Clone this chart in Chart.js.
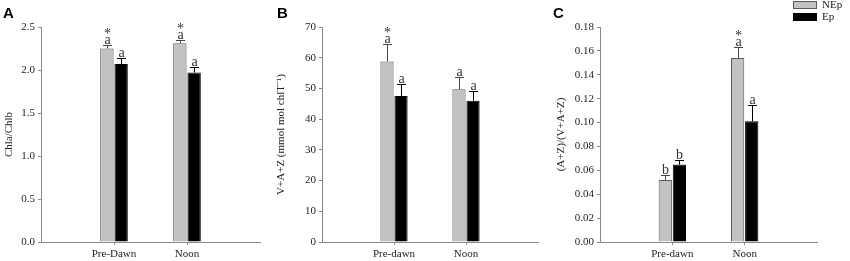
<!DOCTYPE html>
<html><head><meta charset="utf-8">
<script src="https://cdn.jsdelivr.net/npm/chart.js@4/dist/chart.umd.min.js"></script>
<style>
html,body{margin:0;padding:0;background:#fff;width:850px;height:261px;overflow:hidden}
.p{position:absolute;top:0;height:261px}
canvas{display:block}
</style></head><body>
<div class="p" style="left:0;width:275px"><canvas id="cA" width="275" height="261"></canvas></div>
<div class="p" style="left:270px;width:280px"><canvas id="cB" width="280" height="261"></canvas></div>
<div class="p" style="left:550px;width:300px"><canvas id="cC" width="300" height="261"></canvas></div>
<script>
// ---- data ----
const seriesNames = ['NEp', 'Ep'];
const categoriesA = ['Pre-Dawn', 'Noon'];
const categoriesBC = ['Pre-dawn', 'Noon'];

const chlNEp = [2.25, 2.31];
const chlNEpErr = [0.045, 0.04];
const chlEp = [2.07, 1.97];
const chlEpErr = [0.07, 0.06];
const chlNEpLetters = ['a', 'a'];
const chlNEpStars = ['*', '*'];
const chlEpLetters = ['a', 'a'];
const chlEpStars = ['', ''];

const vazNEp = [58.8, 49.7];
const vazNEpErr = [5.6, 4.0];
const vazEp = [47.5, 46.0];
const vazEpErr = [3.8, 3.3];
const vazNEpLetters = ['a', 'a'];
const vazNEpStars = ['*', ''];
const vazEpLetters = ['a', 'a'];
const vazEpStars = ['', ''];

const ratNEp = [0.052, 0.154];
const ratNEpErr = [0.0037, 0.0096];
const ratEp = [0.0648, 0.101];
const ratEpErr = [0.0035, 0.0137];
const ratNEpLetters = ['b', 'a'];
const ratNEpStars = ['', '*'];
const ratEpLetters = ['b', 'a'];
const ratEpStars = ['', ''];

const yTicksA = ['0.0', '0.5', '1.0', '1.5', '2.0', '2.5'];
const yTicksB = ['0', '10', '20', '30', '40', '50', '60', '70'];
const yTicksC = ['0.00', '0.02', '0.04', '0.06', '0.08', '0.10', '0.12', '0.14', '0.16', '0.18'];

// ---- styles ----
Chart.defaults.font.family = "'Liberation Serif', 'Times New Roman', serif";
Chart.defaults.color = '#222';
const GREY = '#c2c2c2', GREY_EDGE = '#5a5a5a', AXIS = '#8a8a8a';

const annot = {
  id: 'annot',
  afterDatasetsDraw(chart) {
    const ctx = chart.ctx, ys = chart.scales.y;
    chart.data.datasets.forEach((ds, di) => {
      const meta = chart.getDatasetMeta(di);
      meta.data.forEach((el, i) => {
        const v = ds.data[i].y;
        const top = Math.round(ys.getPixelForValue(v + ds.errors[i])) + 0.5;
        const x = Math.round(el.x) + 0.5;
        ctx.save();
        ctx.strokeStyle = ds.errColor;
        ctx.lineWidth = 1;
        ctx.beginPath();
        ctx.moveTo(x, el.y);
        ctx.lineTo(x, top);
        ctx.moveTo(x - 4.5, top);
        ctx.lineTo(x + 4.5, top);
        ctx.stroke();
        ctx.fillStyle = '#333';
        ctx.textAlign = 'center';
        ctx.textBaseline = 'alphabetic';
        ctx.font = "14px 'Liberation Serif', serif";
        ctx.fillText(ds.letters[i], x, top - 2);
        if (ds.stars[i]) ctx.fillText(ds.stars[i], x, top - 8);
        ctx.restore();
      });
    });
  }
};

function panelLetter(letter, lx) {
  return {
    id: 'panelLetter',
    afterDraw(chart) {
      const ctx = chart.ctx;
      ctx.save();
      ctx.fillStyle = '#000';
      ctx.font = "bold 15px 'Liberation Sans', Arial, sans-serif";
      ctx.textBaseline = 'alphabetic';
      ctx.textAlign = 'left';
      ctx.fillText(letter, lx, 18);
      ctx.restore();
    }
  };
}

const legendPlugin = {
  id: 'customLegend',
  afterDraw(chart) {
    const ctx = chart.ctx;
    const ds = chart.data.datasets;
    ctx.save();
    ds.forEach((d, i) => {
      const bx = 243, by = 1 + i * 12;
      ctx.fillStyle = d.backgroundColor;
      ctx.fillRect(bx, by, 24, 8);
      ctx.strokeStyle = d.borderColor;
      ctx.lineWidth = 1;
      ctx.strokeRect(bx + 0.5, by + 0.5, 23, 7);
      ctx.fillStyle = '#222';
      ctx.font = "11px 'Liberation Serif', serif";
      ctx.textBaseline = 'middle';
      ctx.textAlign = 'left';
      ctx.fillText(d.label, bx + 29, by + 4.5);
    });
    ctx.restore();
  }
};

function makePanel(id, cats, nep, nepErr, nepL, nepS, ep, epErr, epL, epS, yLabels, yTitle, yW, titlePad, padRight, letter, lx, extra) {
  const vals = yLabels.map(Number);
  const plugins = [annot, panelLetter(letter, lx)];
  if (extra) plugins.push(extra);
  return new Chart(document.getElementById(id), {
    type: 'bar',
    data: {
      datasets: [
        { label: seriesNames[0], data: nep.map((v, i) => ({ x: i + 1, y: v })), errors: nepErr, letters: nepL, stars: nepS,
          backgroundColor: GREY, borderColor: GREY_EDGE, borderWidth: 1, errColor: '#444' },
        { label: seriesNames[1], data: ep.map((v, i) => ({ x: i + 1, y: v })), errors: epErr, letters: epL, stars: epS,
          backgroundColor: '#000', borderColor: '#000', borderWidth: 1, errColor: '#000' }
      ]
    },
    options: {
      responsive: false,
      animation: false,
      categoryPercentage: 0.39,
      barPercentage: 0.94,
      layout: { padding: { left: 0, right: padRight, top: 27, bottom: 0 } },
      plugins: { legend: { display: false }, tooltip: { enabled: false } },
      scales: {
        x: {
          type: 'linear', min: 0, max: cats.length + 1, offset: false,
          afterBuildTicks: s => { s.ticks = cats.map((c, i) => ({ value: i + 1 })); },
          afterFit: s => { s.height = 19; },
          ticks: { autoSkip: false, maxRotation: 0, padding: 3, font: { size: 11 }, color: '#222',
                   callback: v => cats[v - 1] },
          grid: { display: true, offset: false, drawOnChartArea: false, drawTicks: true, tickLength: 3, color: AXIS },
          border: { color: AXIS, width: 1 }
        },
        y: {
          min: vals[0], max: vals[vals.length - 1],
          afterBuildTicks: s => { s.ticks = vals.map(v => ({ value: v })); },
          afterFit: s => { s.width = yW; },
          ticks: { padding: 3, font: { size: 11 }, color: '#222',
                   callback: (v) => yLabels[vals.findIndex(t => Math.abs(t - v) < 1e-9)] },
          grid: { display: true, drawOnChartArea: false, drawTicks: true, tickLength: 3, color: AXIS },
          border: { color: AXIS, width: 1 },
          title: { display: true, text: yTitle, font: { size: 11 }, color: '#222', padding: { top: titlePad, bottom: 0 } }
        }
      }
    },
    plugins
  });
}

makePanel('cA', categoriesA, chlNEp, chlNEpErr, chlNEpLetters, chlNEpStars, chlEp, chlEpErr, chlEpLetters, chlEpStars,
  yTicksA, 'Chla/Chlb', 41, 3, 15, 'A', 3);
makePanel('cB', categoriesBC, vazNEp, vazNEpErr, vazNEpLetters, vazNEpStars, vazEp, vazEpErr, vazEpLetters, vazEpStars,
  yTicksB, 'V+A+Z (mmol mol chlT\u207B\u00B9)', 52, 5, 12, 'B', 7);
makePanel('cC', categoriesBC, ratNEp, ratNEpErr, ratNEpLetters, ratNEpStars, ratEp, ratEpErr, ratEpLetters, ratEpStars,
  yTicksC, '(A+Z)/(V+A+Z)', 50, 5, 33, 'C', 3, legendPlugin);
</script>
</body></html>
